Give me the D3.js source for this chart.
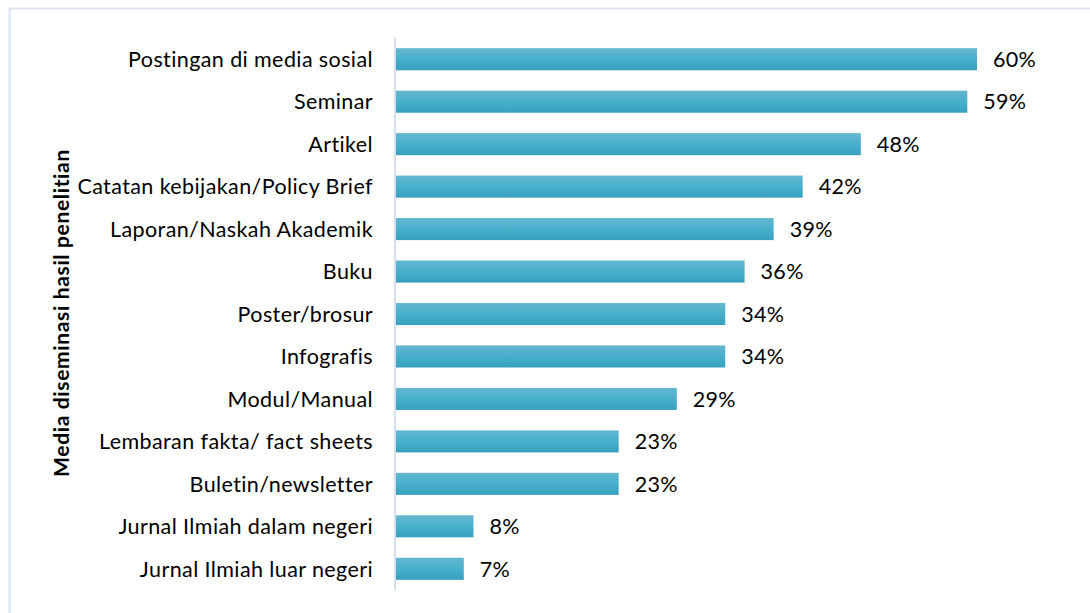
<!DOCTYPE html>
<html>
<head>
<meta charset="utf-8">
<script src="https://cdn.jsdelivr.net/npm/d3@7"></script>
<style>
  html, body { margin: 0; padding: 0; background: #ffffff; }
  svg { display: block; }
  text { font-family: Lato, "Open Sans", sans-serif; fill: #000; }
</style>
</head>
<body>
<svg id="chart" width="1090" height="613"></svg>
<script>
// Media used to disseminate research results, share of respondents (%)
const categories = [
  "Postingan di media sosial",
  "Seminar",
  "Artikel",
  "Catatan kebijakan/Policy Brief",
  "Laporan/Naskah Akademik",
  "Buku",
  "Poster/brosur",
  "Infografis",
  "Modul/Manual",
  "Lembaran fakta/ fact sheets",
  "Buletin/newsletter",
  "Jurnal Ilmiah dalam negeri",
  "Jurnal Ilmiah luar negeri"
];
const values = [60, 59, 48, 42, 39, 36, 34, 34, 29, 23, 23, 8, 7];
const axisTitle = "Media diseminasi hasil penelitian";

const svg = d3.select("#chart");
const W = 1090, H = 613;

// Outer frame
svg.append("rect")
  .attr("x", 9.5).attr("y", 8.5)
  .attr("width", W + 20).attr("height", H + 20)
  .attr("fill", "#fff")
  .attr("stroke", "#dbe5f1").attr("stroke-width", 2);

const x0 = 396;
const x = d3.scaleLinear().domain([0, 60]).range([x0, 977]);
const y = d3.scaleBand().domain(categories).range([38, 590]).paddingInner(0.48).paddingOuter(0.24);

// Bar gradient
const defs = svg.append("defs");
const grad = defs.append("linearGradient").attr("id", "barGrad")
  .attr("x1", 0).attr("y1", 0).attr("x2", 0).attr("y2", 1);
grad.append("stop").attr("offset", "0%").attr("stop-color", "#66b7cf");
grad.append("stop").attr("offset", "50%").attr("stop-color", "#47b0cc");
grad.append("stop").attr("offset", "100%").attr("stop-color", "#37a0bd");

const data = categories.map((c, i) => ({ c, v: values[i] }));

svg.append("g").selectAll("rect")
  .data(data).join("rect")
  .attr("x", x0)
  .attr("y", d => y(d.c))
  .attr("width", d => x(d.v) - x0)
  .attr("height", y.bandwidth())
  .attr("fill", "url(#barGrad)");

// Vertical category axis line
svg.append("line")
  .attr("x1", x0 - 1).attr("x2", x0 - 1)
  .attr("y1", 38).attr("y2", 590)
  .attr("stroke", "#d6e1ef").attr("stroke-width", 2);

// Category labels
svg.append("g").selectAll("text")
  .data(data).join("text")
  .attr("x", 373)
  .attr("y", d => y(d.c) + y.bandwidth() / 2)
  .attr("dy", "0.36em")
  .attr("text-anchor", "end")
  .attr("font-size", 21.5)
  .attr("letter-spacing", 0.4)
  .text(d => d.c);

// Value labels
svg.append("g").selectAll("text")
  .data(data).join("text")
  .attr("x", d => x(d.v) + 16)
  .attr("y", d => y(d.c) + y.bandwidth() / 2)
  .attr("dy", "0.36em")
  .attr("font-size", 21.5)
  .attr("letter-spacing", 0.3)
  .text(d => d.v + "%");

// Axis title
svg.append("text")
  .attr("transform", `translate(69,313) rotate(-90)`)
  .attr("text-anchor", "middle")
  .attr("font-size", 21)
  .attr("font-weight", "bold")
  .attr("letter-spacing", 0.65)
  .text(axisTitle);
</script>
</body>
</html>
